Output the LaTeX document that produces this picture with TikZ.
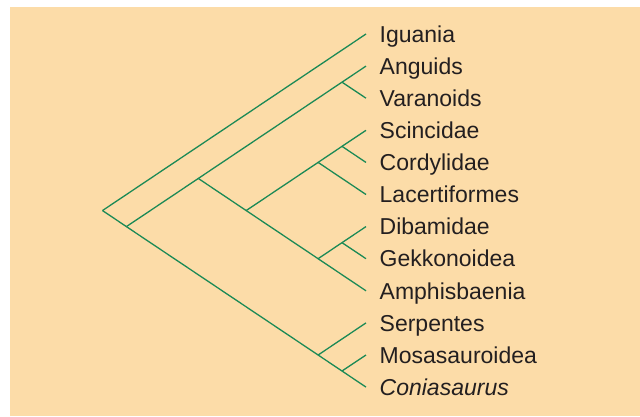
\documentclass[tikz,border=0pt]{standalone}
\usepackage{fontspec}
\setmainfont{Liberation Sans}
\definecolor{panel}{RGB}{252,220,168}
\definecolor{branch}{RGB}{28,138,86}
\definecolor{ink}{RGB}{35,31,32}
\begin{document}
\begin{tikzpicture}[x=1pt,y=-1pt,
  edge/.style={draw=branch,line width=1.3pt},
  taxon/.style={anchor=west,inner xsep=13.5pt,inner ysep=0pt,
    text height=16.4pt,text depth=0pt,text=ink,
    font=\fontsize{23}{27}\selectfont}]
\useasboundingbox (0,0) rectangle (640,416);
\fill[white] (0,0) rectangle (640,416);
\fill[panel] (10,7) rectangle (640,416);

% tips (x = 366), spaced 32.1 apart
\foreach \n/\t [count=\i from 0] in {ig/Iguania,an/Anguids,va/Varanoids,
  sc/Scincidae,co/Cordylidae,la/Lacertiformes,di/Dibamidae,ge/Gekkonoidea,
  am/Amphisbaenia,se/Serpentes,mo/Mosasauroidea,cn/{\itshape Coniasaurus}}
  {\node[taxon] (\n) at (366,{34+32.1*\i}) {\t};}

% internal nodes
\coordinate (root) at (102.5,210.55);
\coordinate (n2)   at (126.4,226.6);
\coordinate (n3)   at (198.3,178.45);
\coordinate (nav)  at (342,82.15);
\coordinate (n4)   at (246.2,210.55);
\coordinate (nsl)  at (318.1,162.4);
\coordinate (nsc)  at (342,146.35);
\coordinate (nda)  at (318.1,258.7);
\coordinate (ndg)  at (342,242.65);
\coordinate (nsm)  at (318.1,355);
\coordinate (nmc)  at (342,371);

% branches
\path[edge] (root) -- (ig.west);
\path[edge] (root) -- (n2);
\path[edge] (n2) -- (n3);
\path[edge] (n2) -- (nsm);
\path[edge] (n3) -- (nav);
\path[edge] (n3) -- (n4);
\path[edge] (nav) -- (an.west);
\path[edge] (nav) -- (va.west);
\path[edge] (n4) -- (nsl);
\path[edge] (n4) -- (nda);
\path[edge] (nsl) -- (nsc);
\path[edge] (nsl) -- (la.west);
\path[edge] (nsc) -- (sc.west);
\path[edge] (nsc) -- (co.west);
\path[edge] (nda) -- (ndg);
\path[edge] (nda) -- (am.west);
\path[edge] (ndg) -- (di.west);
\path[edge] (ndg) -- (ge.west);
\path[edge] (nsm) -- (se.west);
\path[edge] (nsm) -- (nmc);
\path[edge] (nmc) -- (mo.west);
\path[edge] (nmc) -- (cn.west);
\end{tikzpicture}
\end{document}
